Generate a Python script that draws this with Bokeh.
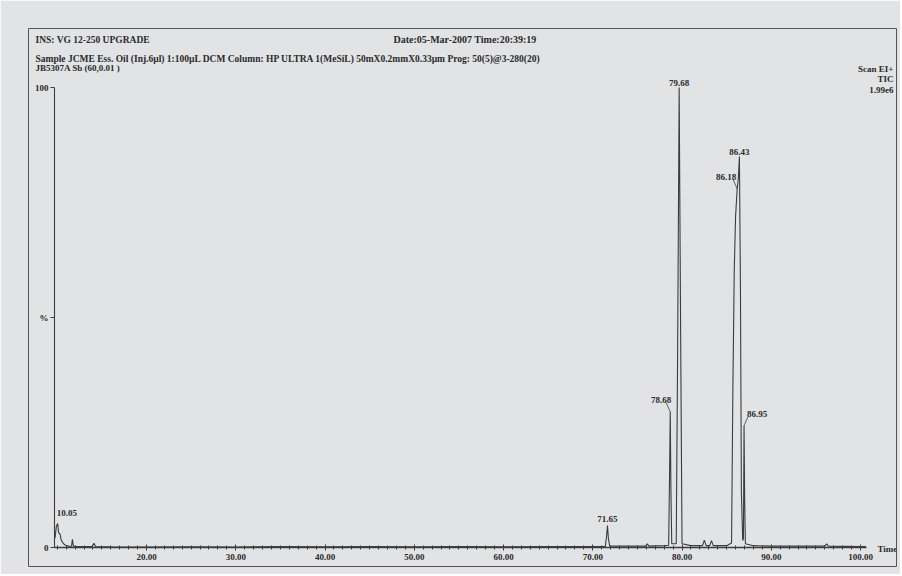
from bokeh.plotting import figure
from bokeh.models import (Range1d, FixedTicker, NumeralTickFormatter, Label,
                          ColumnDataSource)
from bokeh.core.properties import value
from bokeh.embed import file_html
from bokeh.resources import INLINE

# ---------------- data ----------------
times = [9.75, 9.9, 10.05, 10.15, 10.3, 10.45, 10.7, 11.0, 11.5, 11.6, 11.7, 11.8,
         12.2, 13.0, 13.9, 14.1, 14.3, 16.0, 20.0, 25.0, 30.0, 35.0, 40.0, 45.0,
         50.0, 55.0, 60.0, 65.0, 70.0, 71.4, 71.55, 71.65, 71.75, 71.9, 74.0,
         75.9, 76.1, 76.3, 78.0, 78.5, 78.6, 78.68, 78.76, 78.85, 79.35, 79.5,
         79.68, 79.85, 80.0, 81.0, 82.3, 82.5, 82.7, 83.1, 83.3, 83.5, 85.0,
         85.55, 85.7, 85.85, 86.0, 86.18, 86.3, 86.43, 86.55, 86.65, 86.8, 86.88,
         86.95, 87.02, 87.1, 88.0, 90.0, 95.0, 96.0, 96.2, 96.4, 100.0, 100.6]
intensity = [2.0, 4.6, 5.2, 3.2, 3.0, 1.6, 0.8, 0.4, 0.2, 0.3, 1.8, 0.3,
             0.2, 0.2, 0.2, 0.9, 0.2, 0.15, 0.1, 0.15, 0.1, 0.2, 0.15, 0.2,
             0.15, 0.2, 0.15, 0.2, 0.2, 0.2, 2.5, 4.8, 2.0, 0.3, 0.3,
             0.3, 0.8, 0.3, 0.4, 0.5, 15.0, 29.5, 12.0, 0.8, 0.8, 40.0,
             100.0, 45.0, 0.8, 0.4, 0.4, 1.6, 0.4, 0.4, 1.5, 0.4, 0.4,
             1.0, 35.0, 60.0, 72.0, 78.0, 80.0, 85.0, 55.0, 12.0, 1.5, 2.0,
             26.5, 10.0, 0.8, 0.4, 0.3, 0.3, 0.3, 0.8, 0.3, 0.2, 0.2]

peak_times = [10.05, 71.65, 78.68, 79.68, 86.18, 86.43, 86.95]
peak_heights = [5.2, 4.8, 29.5, 100.0, 78.0, 85.0, 26.5]

x_ticks = [20, 30, 40, 50, 60, 70, 80, 90, 100]
y_ticks = [0, 50, 100]
y_tick_labels = ["0", "%", "100"]

header_left = "INS: VG 12-250 UPGRADE"
header_date = "Date:05-Mar-2007  Time:20:39:19"
sample_line = ("Sample JCME Ess. Oil (Inj.6\u00b5l) 1:100\u00b5L DCM Column: HP ULTRA 1(MeSiL) "
               "50mX0.2mmX0.33\u00b5m Prog: 50(5)@3-280(20)")
run_line = "JB5307A Sb (60,0.01 )"
scan_lines = ["Scan EI+", "TIC", "1.99e6"]

# ---------------- style ----------------
PAPER = "#e1e3e5"
INK = "#2a2a2a"
LINE = "#3c3c3c"
FONT = "Liberation Serif"

# label placement per peak (style only): align, x offset px, y offset px
lab_align = ["left", "center", "right", "center", "right", "center", "left"]
lab_dx = [-1, 0, 1, 0, -1, 0, 3]
lab_dy = [-8, -3, -9, -2, -9, -2, -9]

# frame = outer box of the printout; axes drawn at fixed locations inside it
X0, X1 = 6.779, 104.03
Y0, Y1 = -4.13, 112.83
AXIS_X = 9.692

p = figure(width=900, height=574, output_backend="svg", toolbar_location=None,
           x_range=Range1d(X0, X1), y_range=Range1d(Y0, Y1),
           min_border_left=28, min_border_right=4, min_border_top=28,
           min_border_bottom=8)
p.background_fill_color = PAPER
p.border_fill_color = PAPER
p.outline_line_color = "#555555"
p.outline_line_width = 1
p.grid.visible = False

# trace
p.line(times, intensity, line_color=LINE, line_width=1.1)

# peak labels
src = ColumnDataSource(dict(x=peak_times, y=peak_heights,
                            t=["%.2f" % t for t in peak_times],
                            a=lab_align, dx=lab_dx, dy=lab_dy))
p.text(x="x", y="y", text="t", text_align="a", x_offset="dx", y_offset="dy",
       text_baseline="bottom", text_font=value(FONT), text_font_size="9px",
       text_font_style="bold", text_color=INK, source=src)

# leader lines for offset labels (from peak top towards its label)
px_per_x = 868 / (X1 - X0)
px_per_y = 538 / (Y1 - Y0)
lead_idx = [2, 4, 6]
lead_dir = [-1, -1, 1]
p.segment(x0=[peak_times[i] for i in lead_idx],
          y0=[peak_heights[i] for i in lead_idx],
          x1=[peak_times[i] + d * 4 / px_per_x for i, d in zip(lead_idx, lead_dir)],
          y1=[peak_heights[i] + 9 / px_per_y for i in lead_idx],
          line_color=LINE, line_width=0.8)

# axes
xa = p.xaxis[0]
xa.fixed_location = 0
xa.ticker = FixedTicker(ticks=x_ticks, minor_ticks=list(range(10, 101)))
xa.formatter = NumeralTickFormatter(format="0.00")
xa.bounds = (AXIS_X, 100.7)
xa.axis_line_color = LINE
xa.axis_line_width = 1.3
xa.major_tick_line_color = LINE
xa.minor_tick_line_color = LINE
xa.major_tick_in = 3
xa.major_tick_out = 3
xa.minor_tick_in = 2
xa.minor_tick_out = 2
xa.major_label_standoff = 3
xa.major_label_text_font = FONT
xa.major_label_text_font_size = "9px"
xa.major_label_text_font_style = "bold"
xa.major_label_text_color = INK

ya = p.yaxis[0]
ya.fixed_location = AXIS_X
ya.ticker = FixedTicker(ticks=y_ticks, minor_ticks=[])
ya.major_label_overrides = {t: s for t, s in zip(y_ticks, y_tick_labels)}
ya.bounds = (0, 100)
ya.axis_line_color = LINE
ya.axis_line_width = 1.1
ya.major_tick_line_color = LINE
ya.major_tick_in = 0
ya.major_tick_out = 4
ya.major_label_standoff = 2
ya.major_label_text_font = FONT
ya.major_label_text_font_size = "9px"
ya.major_label_text_font_style = "bold"
ya.major_label_text_color = INK


def dx(px):
    return X0 + (px - 28) / px_per_x


def dy(py):
    return Y1 - (py - 28) / px_per_y


def lab(text, x, y, align="left", size="9.5px"):
    p.add_layout(Label(x=x, y=y, text=text, text_align=align, text_baseline="middle",
                       text_font=FONT, text_font_size=size, text_font_style="bold",
                       text_color=INK))


lab(header_left, dx(35), dy(39))
lab(header_date, dx(393), dy(39), size="10px")
lab(sample_line, dx(35), dy(58))
lab(run_line, dx(35), dy(67), size="9px")
for s, yy in zip(scan_lines, [68, 78, 89]):
    lab(s, dx(893), dy(yy), align="right", size="9px")
lab("Time", dx(877), dy(548), size="9px")

html = file_html(p, INLINE)
html = html.replace("<body>", '<body style="background:%s">' % PAPER, 1)
open("out.html", "w").write(html)
